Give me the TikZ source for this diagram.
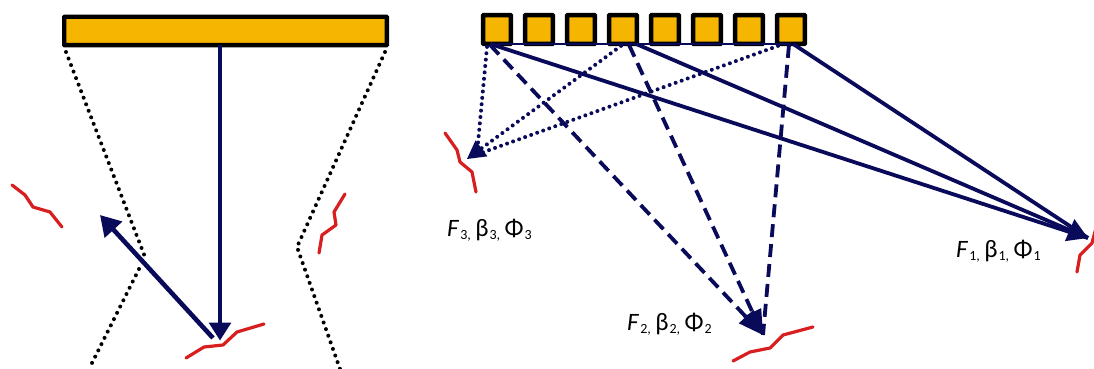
\documentclass[tikz,border=0pt]{standalone}
\usepackage{fontspec}
\setmainfont{Carlito}
\usetikzlibrary{arrows.meta,calc}
\definecolor{barfill}{HTML}{F6B500}
\definecolor{navy}{HTML}{0A0A5A}
\definecolor{crack}{HTML}{D81E1E}
\tikzset{
  x=1pt,y=-1pt,
  bar/.style={draw=black,fill=barfill,line width=4.4pt,inner sep=0pt,outer sep=0pt,rounded corners=0.5pt},
  elem/.style={bar,minimum width=27.8pt,minimum height=28.8pt},
  tip/.style={-{Triangle[length=20pt,width=23pt]}},
  solidray/.style={navy,line width=3.8pt,tip},
  solidplain/.style={navy,line width=3.8pt},
  dashray/.style={navy,line width=3.8pt,dash pattern=on 13pt off 7pt},
  dotray/.style={navy,line width=4pt,line cap=round,dash pattern=on 0pt off 6.4pt},
  beam/.style={black,line width=4pt,line cap=round,dash pattern=on 0pt off 7pt},
  crackline/.style={crack,line width=3.2pt,line cap=round,line join=round},
  lbl/.style={inner sep=0pt,font=\fontsize{25}{28}\selectfont}
}
\newcommand{\sbs}[1]{\raisebox{-3.6pt}{\fontsize{14}{14}\selectfont #1}}
\newcommand{\triple}[1]{\textit{F}\hspace{1pt}\sbs{#1,}\hspace{4.5pt}β\hspace{1pt}\sbs{#1,}\hspace{4.5pt}Φ\hspace{1pt}\sbs{#1}}
\begin{document}
\begin{tikzpicture}
\useasboundingbox (0,0) rectangle (1094,369);
\begin{scope}
\clip (0,0) rectangle (1094,369);
% left: single element
\coordinate (bl1) at (66,52);
\coordinate (bl2) at (145,257);
\coordinate (bl3) at (139,269);
\coordinate (bl4) at (89,369);
\coordinate (br1) at (385,52);
\coordinate (br2) at (297,247);
\coordinate (br3) at (340,369);
\draw[beam] (bl1) -- (bl2);
\draw[beam] (bl3) -- (bl4);
\draw[beam] (br1) -- (br2) -- (br3);
\node[bar,minimum width=322.6pt,minimum height=28.4pt] (mono) at (225.5,31) {};
\coordinate (fa) at (220,340.5);
\coordinate (fb) at (213,338);
\coordinate (fc) at (100,215);
\draw[navy,line width=3.2pt,-{Triangle[length=18pt,width=22pt]}] (mono.south -| fa) -- (fa);
\draw[navy,line width=4.6pt,-{Triangle[length=20pt,width=23pt]}] (fb) -- (fc);
\draw[crackline] (12,185) -- (25,195) -- (33,207) -- (50,212) -- (62,227);
\draw[crackline] (345,194) -- (334,212) -- (336,225) -- (322,235) -- (319,253);
\draw[crackline] (186,358) -- (204,347) -- (223,345) -- (237,332) -- (264,324);
% right: array
\foreach \i [evaluate=\i as \xx using 497+42*(\i-1)] in {1,...,8}{
  \node[elem] (e\i) at (\xx,29.5) {};
}
\draw[navy,line width=2pt] (e1.south) -- (e8.south);
\coordinate (t1) at (1088,238);
\coordinate (t2) at (763,335);
\coordinate (t3) at (467,159);
\coordinate (t3a) at (478,143);
\coordinate (t3b) at (481,153);
% dotted rays
\draw[dotray] ([xshift=-10pt,yshift=-3pt]e1.south) -- (t3a);
\draw[dotray] ([xshift=-13pt,yshift=-2pt]e8.south) -- (t3b);
\draw[dotray] ([xshift=-2pt,yshift=-2pt]e4.south) -- (t3);
\fill[navy] (t3) -- ($(t3)!18pt!(e4.south)!10pt!90:(t3)$) -- ($(t3)!18pt!(e4.south)!10pt!-90:(t3)$) -- cycle;
% dashed rays
\draw[dashray] ([xshift=-7pt,yshift=-1pt]e1.south) -- (t2);
\draw[dashray] ([xshift=6pt,yshift=-1pt]e4.south) -- (t2);
\draw[dashray] ([xshift=-2pt,yshift=-1pt]e8.south) -- (t2);
\fill[navy] (t2) -- ($(t2)!25pt!(e1.south)!10pt!90:(t2)$) -- ($(t2)!25pt!(e1.south)!10pt!-90:(t2)$) -- cycle;
\fill[navy] (t2) -- ($(t2)!25pt!(e4.south)!10pt!90:(t2)$) -- ($(t2)!25pt!(e4.south)!10pt!-90:(t2)$) -- cycle;
% solid rays
\draw[solidplain] ([xshift=-7pt]e1.south) -- (t1);
\draw[solidray] ([xshift=13pt]e4.south) -- (t1);
\draw[solidplain] ([xshift=2pt]e8.south) -- (t1);
\draw[crackline] (445,133) -- (457,150) -- (460,162) -- (472,172) -- (476,192);
\draw[crackline] (733,361) -- (750,352) -- (770,348) -- (783,335) -- (813,327);
\draw[crackline] (1077,272) -- (1080,255) -- (1092,243) -- (1096,228);
\end{scope}
\node[lbl,anchor=base west] (l3) at (447,236) {\triple{3}};
\node[lbl,anchor=base west] (l2) at (627,330) {\triple{2}};
\node[lbl,anchor=base west] (l1) at (956,257) {\triple{1}};
\end{tikzpicture}
\end{document}
